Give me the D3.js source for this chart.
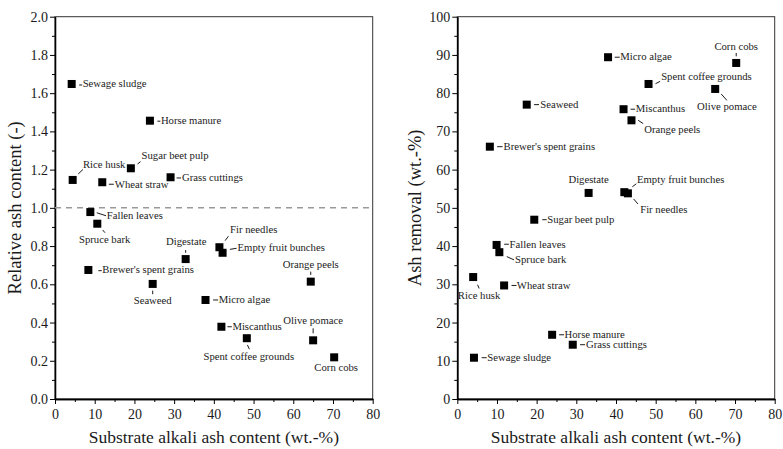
<!DOCTYPE html>
<html>
<head>
<meta charset="utf-8">
<script src="https://cdn.jsdelivr.net/npm/d3@7"></script>
<style>
  body { margin: 0; background: #fff; }
  svg { display: block; font-family: "Liberation Serif", "DejaVu Serif", serif; }
</style>
</head>
<body>
<svg width="783" height="449"></svg>
<script>
const SUBSTRATES = [
  "Sewage sludge", "Horse manure", "Rice husk", "Sugar beet pulp", "Wheat straw",
  "Grass cuttings", "Fallen leaves", "Spruce bark", "Digestate", "Fir needles",
  "Empty fruit bunches", "Brewer's spent grains", "Seaweed", "Orange peels",
  "Micro algae", "Miscanthus", "Olive pomace", "Spent coffee grounds", "Corn cobs"
]

// left panel: relative ash content vs alkali ash content
const ALKALI_ASH_LEFT = [4.2, 23.9, 4.45, 19.1, 11.9, 29.1, 8.9, 10.65, 32.9, 41.4, 42.2, 8.4, 24.6, 64.4, 37.9, 41.9, 65.0, 48.3, 70.3]
const RELATIVE_ASH = [1.648, 1.456, 1.146, 1.207, 1.134, 1.160, 0.978, 0.917, 0.732, 0.794, 0.765, 0.675, 0.602, 0.614, 0.518, 0.378, 0.307, 0.318, 0.218]

// right panel: ash removal vs alkali ash content
const ALKALI_ASH_RIGHT = [4.2, 23.9, 4.0, 19.4, 11.8, 29.1, 9.9, 10.6, 33.1, 43.0, 42.1, 8.2, 17.5, 43.9, 38.0, 41.9, 65.0, 48.2, 70.3]
const ASH_REMOVAL = [10.8, 16.8, 31.9, 46.9, 29.7, 14.2, 40.3, 38.4, 53.9, 53.8, 54.1, 66.0, 77.0, 72.9, 89.4, 75.8, 81.1, 82.4, 87.9]

const X_TICKS = [0, 10, 20, 30, 40, 50, 60, 70, 80]
const Y_TICKS_LEFT = [0.0, 0.2, 0.4, 0.6, 0.8, 1.0, 1.2, 1.4, 1.6, 1.8, 2.0]
const Y_TICKS_RIGHT = [0, 10, 20, 30, 40, 50, 60, 70, 80, 90, 100]
const REFERENCE_LINE = 1.0

const X_TITLE = "Substrate alkali ash content (wt.-%)"
const Y_TITLE_LEFT = "Relative ash content (-)"
const Y_TITLE_RIGHT = "Ash removal (wt.-%)"

// label placement, relative to the marker: [anchor, textDx, textDy, leader x1, y1, x2, y2]
const LABELS_LEFT = [
  ["start", 11, 3.5, 7.5, 1, 10.5, 1],
  ["start", 11, 3.5, 7.5, 0.5, 10.5, 0.5],
  ["start", 10.3, -12, 5.6, -6, 10.3, -10.5],
  ["start", 10.7, -9, 6.7, -4.3, 9.7, -6.6],
  ["start", 12.6, 6, 6.6, 2, 11.6, 2],
  ["start", 11.5, 4, 6, 0.7, 10.5, 0.7],
  ["start", 16.4, 7, 6.4, 0.7, 15.7, 3.7],
  ["middle", 7.4, 19, 5.4, 6.3, 7.7, 9],
  ["middle", 0.6, -14, 0, -9, 0, -6.3],
  ["start", 10.7, -14, 5.7, -6.6, 9, -11],
  ["start", 15, -1.5, 7.3, -3.4, 14, -4.5],
  ["start", 14, 3.5, 10, 0.7, 13.4, 0.7],
  ["middle", 0, 20, 0, 6.7, 0, 10.3],
  ["middle", 0, -13.4, 0, -10, 0, -6.7],
  ["start", 13.3, 3.3, 7.6, 0, 12.6, 0],
  ["start", 11, 3.5, 6, 0, 10.4, 0],
  ["middle", 0, -16, 0, -12, 0, -7],
  ["middle", 2, 21.7, 0.6, 6.7, 2.6, 11],
  ["middle", 2, 13.7]
]

const LABELS_RIGHT = [
  ["start", 13.3, 3, 7.7, 0, 12.7, 0],
  ["start", 12.4, 3, 7, 0, 12, 0],
  ["middle", 5.9, 22, 4.4, 7.7, 6, 11.4],
  ["start", 13, 3.3, 8, 0, 12.4, 0],
  ["start", 12.7, 3.3, 7.4, 0, 12.4, 0],
  ["start", 13.3, 3.6, 7.3, 0, 12.3, 0],
  ["start", 13, 2.7, 7.6, -0.7, 12.3, -0.7],
  ["start", 15.7, 10.4, 7.4, 4.4, 14.7, 7.7],
  ["middle", 0, -10],
  ["start", 12.3, 19.6, 5.7, 5.6, 10, 10.6],
  ["start", 12.7, -9.4, 8, -5.4, 12, -8.4],
  ["start", 13.7, 3, 7.3, 0, 12.7, 0],
  ["start", 13.6, 3, 7.3, 0, 12.3, 0],
  ["start", 12.7, 12.6, 6.7, 0, 11.7, 3.3],
  ["start", 12.3, 3, 6.7, 0, 11.7, 0],
  ["start", 12.3, 3, 7, 0, 11.6, 0],
  ["middle", 11.7, 21.4, 6, 5, 11.7, 11.4],
  ["start", 12.6, -4.3, 7, -0.3, 11.6, -2.6],
  ["middle", 0, -13.3, 0, -10, 0, -6.6]
]

const [TOP, BOTTOM] = [16.7, 399]
const MARKER = 8

const svg = d3.select("svg")

const styleAxis = (g) => {
  g.attr("font-family", null).attr("font-size", null)
  g.select(".domain").attr("stroke", "#000").attr("stroke-width", 1.3)
  g.selectAll(".tick line").attr("stroke", "#000").attr("stroke-width", 1)
  g.selectAll(".tick text")
    .attr("fill", "#1a1a1a")
    .style("font-size", "14px")
    .style("font-family", "\"Liberation Serif\", serif")
}

const drawPanel = (opts) => {
  const { left, right, xValues, yValues, yDomain, yTicks, yMinor, yFormat, labels, yTitle, yTitleX } = opts
  const x = d3.scaleLinear().domain([0, 80]).range([left, right])
  const y = d3.scaleLinear().domain(yDomain).range([BOTTOM, TOP])
  const g = svg.append("g")

  // frame (top and right)
  g.append("rect")
    .attr("x", left).attr("y", TOP)
    .attr("width", right - left).attr("height", BOTTOM - TOP)
    .attr("fill", "none").attr("stroke", "#333").attr("stroke-width", 1)

  // minor ticks
  g.append("g")
    .attr("transform", `translate(0,${BOTTOM})`)
    .call(d3.axisBottom(x).tickValues(d3.range(5, 80, 10)).tickSize(3).tickSizeOuter(0).tickFormat(""))
    .call(styleAxis)
  g.append("g")
    .attr("transform", `translate(${left},0)`)
    .call(d3.axisLeft(y).tickValues(yMinor).tickSize(3).tickSizeOuter(0).tickFormat(""))
    .call(styleAxis)

  // major axes
  g.append("g")
    .attr("transform", `translate(0,${BOTTOM})`)
    .call(d3.axisBottom(x).tickValues(X_TICKS).tickSize(5).tickPadding(5).tickSizeOuter(0))
    .call(styleAxis)
  g.append("g")
    .attr("transform", `translate(${left},0)`)
    .call(d3.axisLeft(y).tickValues(yTicks).tickSize(5).tickPadding(2).tickSizeOuter(0).tickFormat(yFormat))
    .call(styleAxis)

  // titles
  g.append("text")
    .attr("x", (left + right) / 2).attr("y", 443)
    .attr("text-anchor", "middle")
    .attr("fill", "#1a1a1a")
    .style("font-size", "17.5px")
    .text(X_TITLE)
  g.append("text")
    .attr("transform", `translate(${yTitleX},${(TOP + BOTTOM) / 2}) rotate(-90)`)
    .attr("text-anchor", "middle")
    .attr("fill", "#1a1a1a")
    .style("font-size", "18.5px")
    .text(yTitle)

  const points = SUBSTRATES.map((name, i) => ({
    name, cx: x(xValues[i]), cy: y(yValues[i]), label: labels[i]
  }))

  // leader lines
  g.selectAll("line.leader")
    .data(points.filter((p) => p.label.length > 3))
    .enter()
    .append("line")
    .classed("leader", true)
    .attr("x1", (p) => p.cx + p.label[3])
    .attr("y1", (p) => p.cy + p.label[4])
    .attr("x2", (p) => p.cx + p.label[5])
    .attr("y2", (p) => p.cy + p.label[6])
    .attr("stroke", "#000")
    .attr("stroke-width", 0.9)

  // markers
  g.selectAll("rect.marker")
    .data(points)
    .enter()
    .append("rect")
    .classed("marker", true)
    .attr("x", (p) => p.cx - MARKER / 2)
    .attr("y", (p) => p.cy - MARKER / 2)
    .attr("width", MARKER)
    .attr("height", MARKER)
    .attr("fill", "#000")

  // point labels
  g.selectAll("text.point-label")
    .data(points)
    .enter()
    .append("text")
    .classed("point-label", true)
    .attr("x", (p) => p.cx + p.label[1])
    .attr("y", (p) => p.cy + p.label[2])
    .attr("text-anchor", (p) => p.label[0])
    .attr("fill", "#222")
    .style("font-size", "10.7px")
    .text((p) => p.name)

  return { x, y, g }
}

const leftPanel = drawPanel({
  left: 55, right: 372.7,
  xValues: ALKALI_ASH_LEFT, yValues: RELATIVE_ASH,
  yDomain: [0, 2], yTicks: Y_TICKS_LEFT, yMinor: d3.range(0.1, 2, 0.2),
  yFormat: d3.format(".1f"), labels: LABELS_LEFT,
  yTitle: Y_TITLE_LEFT, yTitleX: 21
})

// dashed reference line at 1.0
leftPanel.g.insert("line", "line.leader")
  .attr("x1", leftPanel.x(0)).attr("x2", leftPanel.x(80))
  .attr("y1", leftPanel.y(REFERENCE_LINE)).attr("y2", leftPanel.y(REFERENCE_LINE))
  .attr("stroke", "#999")
  .attr("stroke-width", 1.5)
  .attr("stroke-dasharray", "6,5")

drawPanel({
  left: 457.3, right: 774.7,
  xValues: ALKALI_ASH_RIGHT, yValues: ASH_REMOVAL,
  yDomain: [0, 100], yTicks: Y_TICKS_RIGHT, yMinor: d3.range(5, 100, 10),
  yFormat: d3.format("d"), labels: LABELS_RIGHT,
  yTitle: Y_TITLE_RIGHT, yTitleX: 421
})
</script>
</body>
</html>
